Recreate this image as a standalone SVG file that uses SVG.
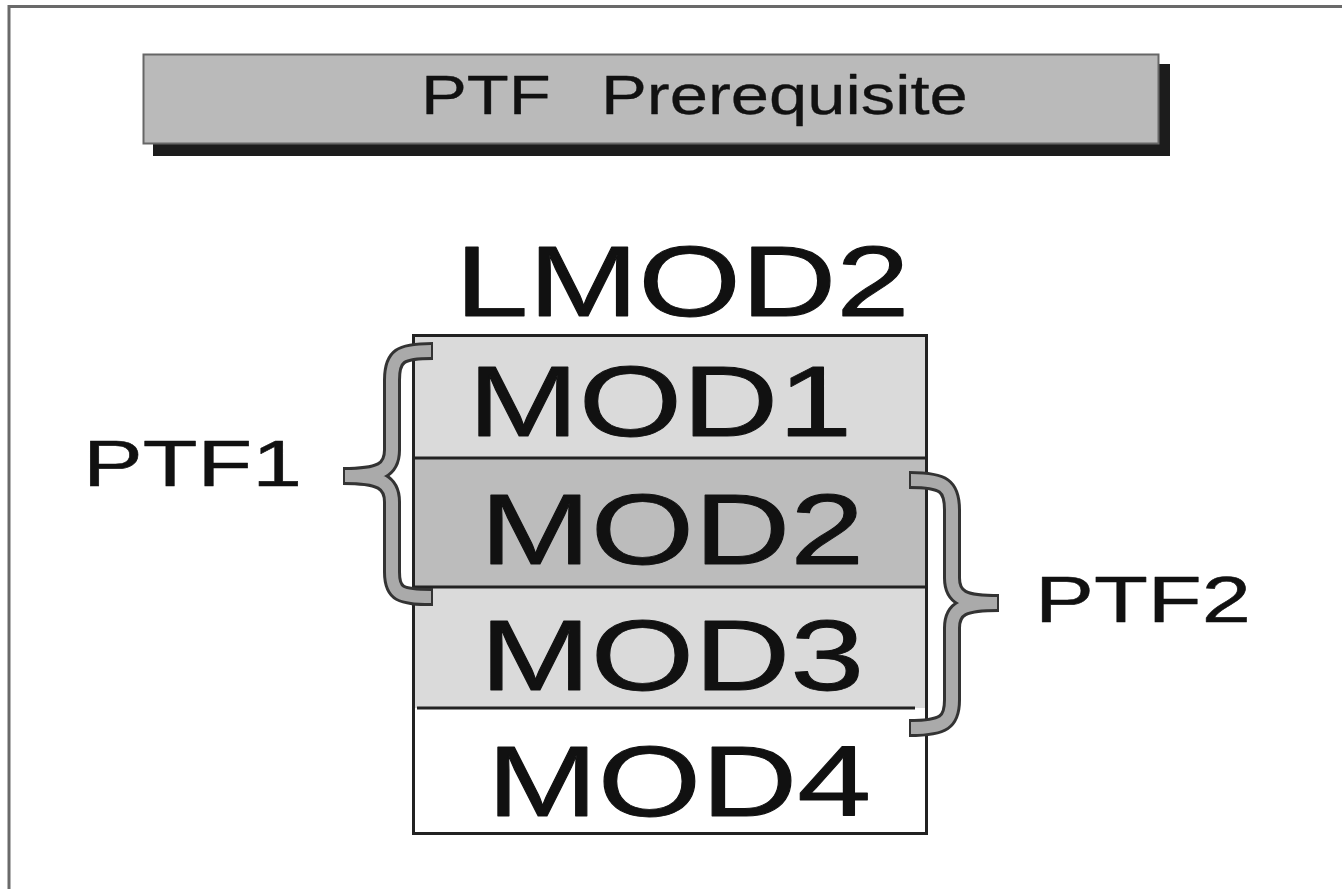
<svg xmlns="http://www.w3.org/2000/svg" width="1342" height="889" viewBox="0 0 1342 889">
<style>
.t{font-family:"Liberation Sans",Arial,sans-serif;fill:#111;stroke:#111;stroke-linejoin:round}
.big{font-size:100px;stroke-width:0.9}
.mid{font-size:64px;stroke-width:0.5}
.ttl{font-size:55px;stroke-width:0.3}
.row{stroke:#222;stroke-width:3}
.brO{fill:none;stroke:#333;stroke-width:18}
.brI{fill:none;stroke:#aaa;stroke-width:12}
</style>
<rect x="0" y="0" width="1342" height="889" fill="#fff"/>
<g id="frame" fill="none" stroke="#6a6a6a" stroke-width="3">
  <path d="M9,889 V6.5 H1342"/>
</g>
<g id="title">
  <rect x="153" y="64" width="1017" height="92" fill="#1c1c1c"/>
  <rect x="143.5" y="54.5" width="1015" height="89" fill="#bababa" stroke="#666" stroke-width="2"/>
  <text class="t ttl" transform="translate(421,114) scale(1.25,1)">PTF<tspan x="144">Prerequisite</tspan></text>
</g>
<g id="lmod2">
  <text class="t big" transform="translate(455,316) scale(1.32,1)">LMOD2</text>
</g>
<g id="mod1">
  <rect x="412" y="335" width="516" height="123" fill="#dadada"/>
  <text class="t big" transform="translate(468,436) scale(1.33,1)">MOD1</text>
</g>
<g id="mod2">
  <rect x="412" y="458" width="516" height="129" fill="#bcbcbc"/>
  <text class="t big" transform="translate(480,564) scale(1.33,1)">MOD2</text>
</g>
<g id="mod3">
  <rect x="412" y="587" width="516" height="121" fill="#dadada"/>
  <text class="t big" transform="translate(480,690) scale(1.33,1)">MOD3</text>
</g>
<g id="mod4">
  <rect x="412" y="708" width="516" height="127" fill="#fff"/>
  <text class="t big" transform="translate(487,816) scale(1.33,1)">MOD4</text>
</g>
<g id="box-lines" fill="none">
  <rect x="413.5" y="335.5" width="513" height="498" class="row"/>
  <line x1="413" y1="458" x2="927" y2="458" class="row"/>
  <line x1="413" y1="587" x2="927" y2="587" class="row"/>
  <line x1="417" y1="708" x2="915" y2="708" class="row"/>
</g>
<g id="connectors">
  <g id="ptf1-brace">
    <path class="brO" d="M433,351 C400,351 392,356 392,380 L392,450 C392,470 380,476 343,476 M343,476 C380,476 392,482 392,502 L392,572 C392,594 400,597 433,597"/>
    <path class="brI" d="M431,351 C400,351 392,356 392,380 L392,450 C392,470 380,476 345,476 M345,476 C380,476 392,482 392,502 L392,572 C392,594 400,597 431,597"/>
  </g>
  <g id="ptf2-brace">
    <path class="brO" d="M909,480 C944,480 952,486 952,510 L952,578 C952,598 964,603 999,603 M999,603 C964,603 952,608 952,628 L952,700 C952,722 944,728 909,728"/>
    <path class="brI" d="M911,480 C944,480 952,486 952,510 L952,578 C952,598 964,603 997,603 M997,603 C964,603 952,608 952,628 L952,700 C952,722 944,728 911,728"/>
  </g>
</g>
<g id="ptf1">
  <text class="t mid" transform="translate(83,486) scale(1.4,1)">PTF1</text>
</g>
<g id="ptf2">
  <text class="t mid" transform="translate(1035,622) scale(1.38,1)">PTF2</text>
</g>
</svg>
